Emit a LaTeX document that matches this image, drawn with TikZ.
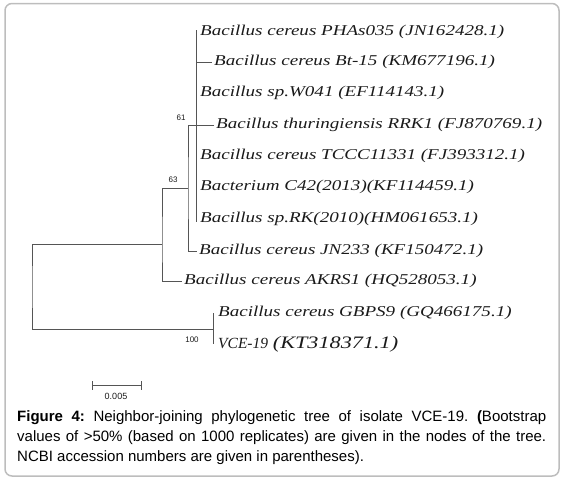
\documentclass[tikz,border=0pt]{standalone}
\usepackage{fontspec}
\setmainfont{Liberation Sans}
\newfontfamily\leaffont[FakeStretch=1.27]{Liberation Serif}
\newfontfamily\plainleaffont{Liberation Serif}
\usetikzlibrary{positioning}
\definecolor{treegray}{HTML}{555555}
\definecolor{framegray}{HTML}{BDBDBD}
\definecolor{inkblack}{HTML}{1A1A1A}
\frenchspacing

\begin{document}
\begin{tikzpicture}[x=1pt,y=-1pt,
  branch/.style={treegray,line width=1pt},
  leaf/.style={anchor=west,inner sep=2pt,text=inkblack,font=\leaffont\itshape\fontsize{15}{17}\selectfont},
  boot/.style={inner sep=0pt,text=inkblack,font=\fontsize{8}{9}\selectfont}]
\useasboundingbox (0,0) rectangle (564,479);
\draw[framegray,line width=1.5pt,rounded corners=7pt] (5,3.5) rectangle (559,476);

% leaves
\node[leaf] (l1) at (198,32) {Bacillus cereus PHAs035 (JN162428.1)};
\node[leaf] (l2) at (212,62) {Bacillus cereus Bt-15 (KM677196.1)};
\node[leaf] (l3) at (198,93) {Bacillus sp.W041 (EF114143.1)};
\node[leaf] (l4) at (214,125) {Bacillus thuringiensis RRK1 (FJ870769.1)};
\node[leaf] (l5) at (198,156) {Bacillus cereus TCCC11331 (FJ393312.1)};
\node[leaf] (l6) at (198,187) {Bacterium C42(2013)(KF114459.1)};
\node[leaf] (l7) at (198,219) {Bacillus sp.RK(2010)(HM061653.1)};
\node[leaf] (l8) at (197,251) {Bacillus cereus JN233 (KF150472.1)};
\node[leaf] (l9) at (182,281) {Bacillus cereus AKRS1 (HQ528053.1)};
\node[leaf] (l10) at (216,313) {Bacillus cereus GBPS9 (GQ466175.1)};
\node[leaf] (l11) at (216,344)
  {{\plainleaffont\itshape\fontsize{15.5}{17}\selectfont VCE-19} {\fontsize{17.5}{20}\selectfont(KT318371.1)}};

% inner nodes
\coordinate (root) at (32,287);
\coordinate (n63) at (162,244);
\coordinate (n61) at (188,188);
\coordinate (n100) at (213,329);
\coordinate (ctop) at (196,30);
\coordinate (cbot) at (196,222);

% branches
\draw[branch] (n63) -| (root) |- (n100);
\draw[branch] (n61) -| (n63) |- (l9.west);
\draw[branch] (l4.west) -| (n61) |- (l8.west);
\draw[branch] (ctop) -- (cbot);
\draw[branch] (ctop |- l2.west) -- (l2.west);
\draw[branch] (n100 |- l10.west) -- (n100 |- l11.west);

% bootstrap values
\node[boot] (b61) at (181,118) {61};
\node[boot] (b63) at (173,180) {63};
\node[boot] (b100) at (192,340) {100};

% scale bar
\coordinate (sb0) at (92,385);
\coordinate (sb1) at (141,385);
\draw[branch,line width=1pt] (sb0) -- (sb1);
\draw[branch,line width=1pt] ([yshift=-4.5pt]sb0) -- ([yshift=4.5pt]sb0);
\draw[branch,line width=1pt] ([yshift=-4.5pt]sb1) -- ([yshift=4.5pt]sb1);
\node[boot,font=\fontsize{9}{10}\selectfont] (sbl) at (116,396) {0.005};

% caption
\node[anchor=north west,inner sep=0pt,text=black,font=\fontsize{15}{20}\selectfont,
  text width=529pt,align=justify] (cap) at (17,410)
  {\textbf{Figure 4:} Neighbor-joining phylogenetic tree of isolate VCE-19. \textbf{(}Bootstrap\linebreak
   values of >50\% (based on 1000 replicates) are given in the nodes of the tree.\linebreak
   NCBI accession numbers are given in parentheses).};
\end{tikzpicture}
\end{document}
